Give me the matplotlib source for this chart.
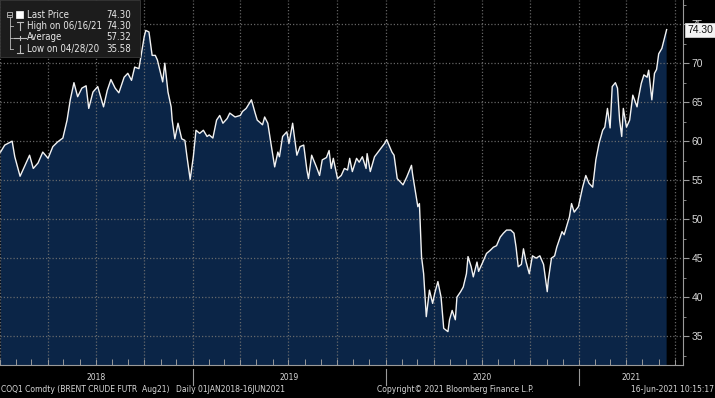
import os
import matplotlib
matplotlib.use("Agg")
import matplotlib.pyplot as plt
import matplotlib.dates as mdates
from matplotlib.lines import Line2D
from matplotlib.patches import Rectangle
from matplotlib.ticker import MultipleLocator
from matplotlib import font_manager
from matplotlib.font_manager import FontProperties
import pandas as pd

# ---------------- data ----------------
dates = [
    "2018-01-02", "2018-01-10", "2018-01-24", "2018-01-29", "2018-02-08", "2018-02-16", "2018-02-26", "2018-03-05",
    "2018-03-14", "2018-03-23", "2018-04-02", "2018-04-11", "2018-04-20", "2018-04-30", "2018-05-08", "2018-05-14",
    "2018-05-21", "2018-05-28", "2018-06-05", "2018-06-13", "2018-06-18", "2018-06-26", "2018-07-05", "2018-07-16",
    "2018-07-23", "2018-07-30", "2018-08-07", "2018-08-14", "2018-08-24", "2018-08-31", "2018-09-07", "2018-09-13",
    "2018-09-21", "2018-10-01", "2018-10-04", "2018-10-10", "2018-10-16", "2018-10-22", "2018-10-26", "2018-11-05",
    "2018-11-09", "2018-11-15", "2018-11-21", "2018-11-23", "2018-11-28", "2018-12-04", "2018-12-11", "2018-12-17",
    "2018-12-21", "2018-12-27",
    "2019-01-02", "2019-01-07", "2019-01-14", "2019-01-21", "2019-01-28", "2019-02-01", "2019-02-08", "2019-02-15",
    "2019-02-21", "2019-02-27", "2019-03-07", "2019-03-12", "2019-03-22", "2019-04-01", "2019-04-05", "2019-04-12",
    "2019-04-22", "2019-04-29", "2019-05-03", "2019-05-13", "2019-05-17", "2019-05-23", "2019-05-28", "2019-06-03",
    "2019-06-05", "2019-06-11", "2019-06-14", "2019-06-20", "2019-06-28", "2019-07-02", "2019-07-09", "2019-07-17",
    "2019-07-23", "2019-07-30", "2019-08-05", "2019-08-08", "2019-08-14", "2019-08-23", "2019-08-29", "2019-09-03",
    "2019-09-11", "2019-09-16", "2019-09-20", "2019-09-24", "2019-10-02", "2019-10-09", "2019-10-15", "2019-10-21",
    "2019-10-25", "2019-10-30", "2019-11-07", "2019-11-12", "2019-11-18", "2019-11-25", "2019-11-27", "2019-12-03",
    "2019-12-11", "2019-12-20", "2019-12-30",
    "2020-01-03", "2020-01-13", "2020-01-17", "2020-01-23", "2020-02-03", "2020-02-10", "2020-02-19", "2020-02-21",
    "2020-02-28", "2020-03-02", "2020-03-05", "2020-03-09", "2020-03-13", "2020-03-18", "2020-03-24", "2020-03-30",
    "2020-04-03", "2020-04-09", "2020-04-15", "2020-04-20", "2020-04-28", "2020-05-01", "2020-05-06", "2020-05-12",
    "2020-05-15", "2020-05-22", "2020-05-27", "2020-06-02", "2020-06-05", "2020-06-11", "2020-06-15", "2020-06-22",
    "2020-06-25", "2020-07-03", "2020-07-10", "2020-07-17", "2020-07-23", "2020-07-29", "2020-08-05", "2020-08-11",
    "2020-08-17", "2020-08-25", "2020-08-31", "2020-09-04", "2020-09-08", "2020-09-14", "2020-09-18", "2020-09-23",
    "2020-09-29", "2020-10-05", "2020-10-12", "2020-10-19", "2020-10-26", "2020-11-02", "2020-11-04", "2020-11-10",
    "2020-11-16", "2020-11-20", "2020-11-30", "2020-12-04", "2020-12-14", "2020-12-18", "2020-12-23", "2020-12-31",
    "2021-01-08", "2021-01-14", "2021-01-20", "2021-01-27", "2021-02-02", "2021-02-08", "2021-02-15", "2021-02-19",
    "2021-02-24", "2021-03-01", "2021-03-05", "2021-03-11", "2021-03-15", "2021-03-19", "2021-03-23", "2021-03-26",
    "2021-04-01", "2021-04-07", "2021-04-13", "2021-04-21", "2021-04-23", "2021-04-29", "2021-05-04", "2021-05-10",
    "2021-05-13", "2021-05-19", "2021-05-24", "2021-05-28", "2021-06-01", "2021-06-07", "2021-06-10", "2021-06-16",
]

prices = [
    58.6, 59.5, 60.0, 58.0, 55.5, 56.7, 58.2, 56.5,
    57.2, 58.6, 57.8, 59.3, 59.9, 60.4, 62.7, 65.3,
    67.5, 65.7, 66.8, 67.1, 64.2, 66.3, 67.0, 64.4,
    66.5, 67.9, 66.8, 66.2, 68.2, 68.7, 67.8, 69.5,
    69.3, 73.4, 74.2, 74.0, 71.0, 71.0, 70.4, 67.6,
    70.0, 66.3, 64.4, 62.7, 60.3, 62.3, 60.3, 60.1,
    58.0, 55.1,
    58.0, 61.4, 61.0, 61.4, 60.6, 60.8, 60.4, 62.7,
    63.3, 62.3, 62.9, 63.6, 63.1, 63.3, 63.8, 64.2,
    65.3, 63.6, 62.7, 62.1, 63.1, 62.3, 60.1, 57.6,
    56.7, 58.6, 58.0, 60.6, 61.2, 59.7, 62.3, 58.2,
    59.3, 59.5, 56.3, 55.2, 58.2, 56.7, 55.6, 57.6,
    57.9, 58.8, 56.5, 57.8, 55.2, 55.6, 56.5, 56.3,
    57.8, 56.1, 57.8, 57.3, 58.0, 56.5, 58.4, 56.1,
    58.0, 58.8, 59.7,
    60.2, 58.6, 58.2, 55.2, 54.4, 55.4, 56.9, 55.8,
    52.9, 51.6, 52.0, 45.2, 43.0, 37.5, 40.9, 39.2,
    40.5, 42.0, 40.0, 36.0, 35.58, 37.1, 38.3, 37.1,
    40.0, 40.7, 41.3, 43.0, 45.2, 43.9, 42.6, 44.5,
    43.3, 44.5, 45.6, 46.0, 46.4, 46.6, 47.7, 48.2,
    48.6, 48.6, 48.2, 46.4, 43.9, 44.2, 46.2, 44.5,
    43.0, 45.3, 45.0, 45.3, 44.2, 40.7, 42.2, 45.0,
    45.3, 46.4, 48.4, 48.0, 50.3, 52.0, 50.9, 51.6,
    54.1, 55.6, 54.6, 54.1, 57.6, 59.7, 61.4, 61.8,
    64.2, 61.7, 67.0, 67.5, 66.8, 62.7, 60.6, 64.2,
    61.8, 62.7, 65.9, 64.4, 65.3, 67.4, 68.5, 68.2,
    69.1, 65.3, 68.7, 69.2, 71.2, 71.9, 72.7, 74.30,
]

legend_labels = ["Last Price", "High on 06/16/21", "Average", "Low on 04/28/20"]
legend_values = ["74.30", "74.30", "57.32", "35.58"]
last_price = 74.30
last_price_label = "74.30"
y_ticks = [35, 40, 45, 50, 55, 60, 65, 70, 75]
year_labels = ["2018", "2019", "2020", "2021"]
footer_texts = ["COQ1 Comdty (BRENT CRUDE FUTR  Aug21)", "Daily 01JAN2018-16JUN2021",
                "Copyright\u00a9 2021 Bloomberg Finance L.P.", "16-Jun-2021 10:15:17"]

# ---------------- fonts: prefer a narrow sans if one is installed ----------------
plt.rcParams["font.family"] = ["Liberation Sans", "DejaVu Sans"]


def find_narrow():
    prefs = ["liberation sans narrow", "dejavu sans condensed", "roboto condensed", "open sans condensed",
             "noto sans condensed"]
    found = {}
    for f in font_manager.fontManager.ttflist:
        base = os.path.basename(f.fname).lower()
        name = f.name.lower()
        if f.style != "normal" or f.weight not in (400, "normal", "regular"):
            continue
        if "bold" in base or "italic" in base or "oblique" in base or "light" in base:
            continue
        for p in prefs:
            key = p.replace(" ", "")
            if p == name or key in base.replace("-", "").replace("_", "") or (
                    p.split()[0] in name and f.stretch in ("condensed", "semi-condensed")
                    and p.split()[-1] in ("condensed", "narrow")):
                found.setdefault(p, f.fname)
    for p in prefs:
        if p in found:
            return p, found[p]
    return None, None


narrow_name, narrow_path = find_narrow()
if narrow_path:
    TXT = FontProperties(fname=narrow_path)
    wide_factor = 0.84 if "liberation" in narrow_name else 0.92
else:
    TXT = FontProperties(family=["Liberation Sans", "DejaVu Sans"])
    wide_factor = 1.0
small = min(6.6, 6.6 * 0.86 / wide_factor)

# ---------------- figure ----------------
W, H = 715, 398
fig = plt.figure(figsize=(W / 100, H / 100), dpi=100, facecolor="black")
renderer = fig.canvas.get_renderer()
ax = fig.add_axes([0, 33 / H, 683 / W, 365 / H])
ax.set_facecolor("black")

x = pd.to_datetime(dates)
ax.fill_between(x, prices, 0, color="#0b2547", lw=0, zorder=1)
ax.plot(x, prices, color="#f2f2f2", lw=1.0, zorder=3, solid_joinstyle="round")

ax.set_xlim(pd.Timestamp("2018-01-01"), pd.Timestamp("2021-07-17"))
ax.set_ylim(31.3, 78.1)

# grid: quarterly vertical, every 5 horizontal
ax.xaxis.set_major_locator(mdates.MonthLocator(bymonth=[1, 4, 7, 10]))
ax.xaxis.set_minor_locator(mdates.MonthLocator())
ax.set_yticks(y_ticks)
ax.yaxis.set_minor_locator(MultipleLocator(2.5))
ax.set_axisbelow(False)
ax.grid(True, which="major", color="#707070", alpha=0.9, lw=0.9, ls=(0, (1, 1.6)))

ax.yaxis.tick_right()
ax.tick_params(axis="y", which="major", direction="out", length=4, width=0.8, color="#9a9a9a",
               labelcolor="#d6d6d6", labelsize=7.5, pad=2)
ax.tick_params(axis="y", which="minor", direction="out", length=2, width=0.6, color="#9a9a9a")
ax.tick_params(axis="x", which="both", direction="in", length=4, width=0.7, color="#9a9a9a",
               labelbottom=False)

for side in ["left", "top"]:
    ax.spines[side].set_visible(False)
for side in ["right", "bottom"]:
    ax.spines[side].set_color("#9a9a9a")
    ax.spines[side].set_linewidth(0.8)

# last-price tag on the right axis
ax.text(1.006, last_price, last_price_label, transform=ax.get_yaxis_transform(),
        ha="left", va="center", fontsize=7.5, color="#111111", zorder=10, clip_on=False,
        bbox=dict(boxstyle="square,pad=0.18", fc="#f4f4f4", ec="#cfcfcf", lw=0.6))

# year labels and separators below the axis
x0, x1 = [mdates.num2date(v).replace(tzinfo=None) for v in ax.get_xlim()]
tr = ax.get_xaxis_transform()
for i, yl in enumerate(year_labels):
    ys = max(pd.Timestamp(f"{yl}-01-01"), pd.Timestamp(x0))
    ye = min(pd.Timestamp(f"{int(yl) + 1}-01-01"), pd.Timestamp(x1))
    mid = ys + (ye - ys) / 2
    t = ax.text(mid, -13 / 365, yl, transform=tr, ha="center", va="center",
                color="#d6d6d6", clip_on=False)
    t.set_fontproperties(TXT)
    t.set_fontsize(small)
    if i > 0:
        ax.plot([ys, ys], [-4 / 365, -20 / 365], transform=tr, color="#9a9a9a",
                lw=0.8, clip_on=False)

# footer (left texts never run into each other)
fy = 1 - 390 / H


def ftext(px, s, ha):
    t = fig.text(px / W, fy, s, ha=ha, va="center", color="#d6d6d6")
    t.set_fontproperties(TXT)
    t.set_fontsize(small)
    return t


t0 = ftext(1, footer_texts[0], "left")
end0 = t0.get_window_extent(renderer).x1
t1 = ftext(max(157, end0 + 6), footer_texts[1], "left")
end1 = t1.get_window_extent(renderer).x1
ftext(max(377, end1 + 6), footer_texts[2], "left")
ftext(714, footer_texts[3], "right")


# legend box (top-left)
def fp(px, py):
    return px / W, 1 - py / H


fig.add_artist(Rectangle(fp(0, 57), 140 / W, 57 / H, transform=fig.transFigure,
                         fc="#1c1c1c", ec="#3a3a3a", lw=0.6, zorder=20))
row_y = [14.5, 26, 37.5, 49]
icon_c = "#bdbdbd"


def seg(p1, p2, lw=0.8, color=icon_c):
    (xa, ya), (xb, yb) = fp(*p1), fp(*p2)
    fig.add_artist(Line2D([xa, xb], [ya, yb], transform=fig.transFigure, color=color, lw=lw, zorder=21))


# tree lines
fig.add_artist(Rectangle(fp(7, 17), 5 / W, 5 / H, transform=fig.transFigure,
                         fc="none", ec=icon_c, lw=0.6, zorder=21))
seg((8, 14.5), (11, 14.5), lw=0.6)
seg((9.5, 17), (9.5, row_y[3]), lw=0.6)
for ry in row_y[1:]:
    seg((9.5, ry), (13, ry), lw=0.6)
# row icons
fig.add_artist(Rectangle(fp(16, 18), 7 / W, 7 / H, transform=fig.transFigure,
                         fc="white", ec="white", lw=0.5, zorder=21))
seg((17, 22), (23, 22))
seg((20, 22), (20, 30))
seg((14, 37.5), (26, 37.5))
seg((20, 35.5), (20, 39.5))
seg((20, 45), (20, 53))
seg((17, 53), (23, 53))

leg_texts = []
for ry, lab, val in zip(row_y, legend_labels, legend_values):
    lx, ly = fp(27, ry)
    vx, _ = fp(131, ry)
    pair = []
    for xx, s, ha in [(lx, lab, "left"), (vx, val, "right")]:
        t = fig.text(xx, ly, s, ha=ha, va="center", color="#e8e8e8", zorder=22)
        t.set_fontproperties(TXT)
        pair.append(t)
    leg_texts.append(pair)

# shrink legend text until labels and values keep a small gap
fs = 7.8
while fs > 5.0:
    for a, b in leg_texts:
        a.set_fontsize(fs)
        b.set_fontsize(fs)
    gap = min(b.get_window_extent(renderer).x0 - a.get_window_extent(renderer).x1 for a, b in leg_texts)
    if gap >= 4:
        break
    fs -= 0.1

fig.savefig("out.png", dpi=100, facecolor="black")
